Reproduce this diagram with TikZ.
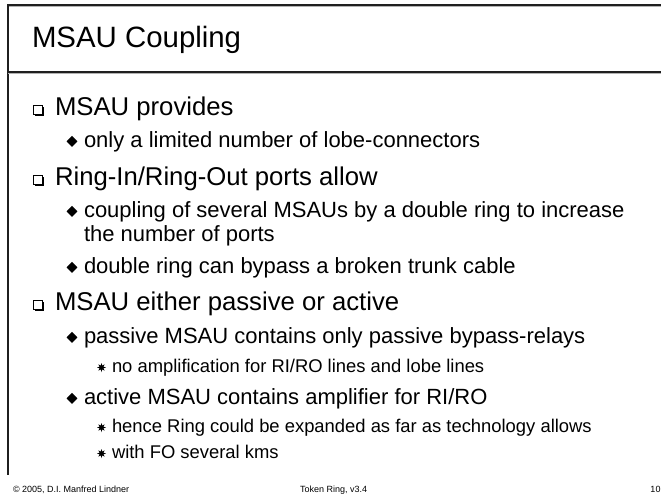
\documentclass[tikz,border=0pt]{standalone}
\usepackage{fontspec}
\setmainfont{Liberation Sans}
\usetikzlibrary{shapes.geometric}
\begin{document}
\begin{tikzpicture}[x=1pt,y=-1pt,
  txt/.style={anchor=base west, inner sep=0pt, outer sep=0pt, text=black},
  ttl/.style={txt, font=\fontsize{29.4}{34}\selectfont},
  lone/.style={txt, font=\fontsize{25.7}{30}\selectfont},
  ltwo/.style={txt, font=\fontsize{22}{26}\selectfont},
  lthree/.style={txt, font=\fontsize{18.4}{22}\selectfont},
  foot/.style={txt, font=\fontsize{9}{11}\selectfont},
  rulebar/.style={line width=2pt, draw=black!88},
  ruleshade/.style={line width=1pt, draw=black!30},
  sqbul/.pic={
    \fill[black] (-3,-3) rectangle (5.5,5.5);
    \filldraw[fill=white, draw=black, line width=0.9pt] (-4.5,-4.5) rectangle (4,4);
  },
  dmbul/.pic={
    \fill[black] (0,-5.5) -- (5.4,0) -- (0,5.5) -- (-5.4,0) -- cycle;
  },
  stbul/.pic={
    \node[star, star points=8, star point ratio=2.1, fill=black, draw=none,
          minimum size=9pt, inner sep=0pt] {};
  },
]
\useasboundingbox[fill=white] (0,0) rectangle (661,499);

% slide frame
\draw[ruleshade] (8,6.8) -- (661,6.8);
\draw[rulebar] (8,5) -- (661,5);
\draw[rulebar] (8,4) -- (8,475);
\draw[ruleshade] (8,73.9) -- (661,73.9);
\draw[rulebar, line width=2.4pt] (8,72) -- (661,72);

% title
\node[ttl] (title) at (32,47) {MSAU Coupling};

% first block
\pic (b1) at (38,110) {sqbul};
\node[lone] (t1) at (55,115) {MSAU provides};
\pic (d1) at (72,141.4) {dmbul};
\node[ltwo] (t1a) at (84,147) {only a limited number of lobe-connectors};

% second block
\pic (b2) at (38,180) {sqbul};
\node[lone] (t2) at (55,185) {Ring-In/Ring-Out ports allow};
\pic (d2) at (72,211.4) {dmbul};
\node[ltwo] (t2a) at (84,217) {coupling of several MSAUs by a double ring to increase};
\node[ltwo] (t2b) at (84,241) {the number of ports};
\pic (d3) at (72,267.4) {dmbul};
\node[ltwo] (t2c) at (84,273) {double ring can bypass a broken trunk cable};

% third block
\pic (b3) at (38,305) {sqbul};
\node[lone] (t3) at (55,310) {MSAU either passive or active};
\pic (d4) at (72,337.4) {dmbul};
\node[ltwo] (t3a) at (84,343) {passive MSAU contains only passive bypass-relays};
\pic (s1) at (101.5,367.5) {stbul};
\node[lthree] (t3b) at (112,372) {no amplification for RI/RO lines and lobe lines};
\pic (d5) at (72,398.4) {dmbul};
\node[ltwo] (t3c) at (84,404) {active MSAU contains amplifier for RI/RO};
\pic (s2) at (101.5,427.5) {stbul};
\node[lthree] (t3d) at (112,432) {hence Ring could be expanded as far as technology allows};
\pic (s3) at (101.5,453.5) {stbul};
\node[lthree] (t3e) at (112,458) {with FO several kms};

% footer
\node[foot] (f1) at (13,492) {© 2005, D.I. Manfred Lindner};
\node[foot] (f2) at (300,492) {Token Ring, v3.4};
\node[foot, anchor=base east] (f3) at (660.5,492) {10};
\end{tikzpicture}
\end{document}
